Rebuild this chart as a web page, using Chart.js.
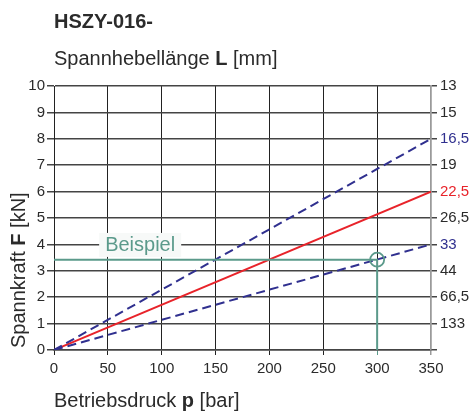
<!DOCTYPE html>
<html>
<head>
<meta charset="utf-8">
<script src="https://cdn.jsdelivr.net/npm/chart.js@4/dist/chart.umd.min.js"></script>
<style>
  body { margin: 0; background: #fff; }
  #wrap { position: relative; width: 475px; height: 416px; font-family: "Liberation Sans", Arial, sans-serif; color: #2b2b2b; }
  #wrap canvas { position: absolute; left: 0; top: 0; }
  .lbl { position: absolute; white-space: nowrap; font-size: 20px; line-height: 20px; }
  #title { left: 54px; top: 11px; font-weight: bold; }
  #topTitle { left: 54px; top: 48px; }
  #xTitle { left: 54px; top: 390px; }
  #yTitle { left: 8px; top: 348px; transform: rotate(-90deg); transform-origin: 0 0; }
</style>
</head>
<body>
<div id="wrap">
  <canvas id="out" width="475" height="416"></canvas>
  <div class="lbl" id="title">HSZY-016-</div>
  <div class="lbl" id="topTitle">Spannhebellänge <b>L</b> [mm]</div>
  <div class="lbl" id="xTitle">Betriebsdruck <b>p</b> [bar]</div>
  <div class="lbl" id="yTitle">Spannkraft <b>F</b> [kN]</div>
</div>
<script>
// Betriebsdruck p [bar] -> Spannkraft F [kN]
const pressure = [0, 350];
const forceL165 = [0, 8];
const forceL225 = [0, 6];
const forceL33 = [0, 4];

// Beispiel: 300 bar
const examplePressure = [0, 300, 300];
const exampleForce = [3.42, 3.42, 0];

// right axis, Spannhebellänge L [mm], from F = 10 down to F = 0
const leverLabels = ["13", "15", "16,5", "19", "22,5", "26,5", "33", "44", "66,5", "133", ""];

const blue = "#30308f";
const red = "#e8232a";
const green = "#5b9a8b";
const textColor = "#2b2b2b";

function points(xs, ys) {
  return xs.map((x, i) => ({ x: x, y: ys[i] }));
}

function leverLabelColor(label) {
  if (label === "16,5" || label === "33") return blue;
  if (label === "22,5") return red;
  return textColor;
}

const beispielLabel = {
  id: "beispielLabel",
  beforeDatasetsDraw(chart) {
    const ctx = chart.ctx;
    const x = chart.scales.x.getPixelForValue(80);
    const y = chart.scales.y.getPixelForValue(3.98);
    ctx.save();
    ctx.font = "20px 'Liberation Sans', Arial, sans-serif";
    const w = ctx.measureText("Beispiel").width + 12;
    ctx.fillStyle = "#f7f9f8";
    ctx.fillRect(x - w / 2, y - 12, w, 24);
    ctx.fillStyle = green;
    ctx.textAlign = "center";
    ctx.textBaseline = "middle";
    ctx.fillText("Beispiel", x, y + 1);
    ctx.restore();
  }
};

const chart = new Chart(document.getElementById("out").getContext("2d"), {
  type: "line",
  data: {
    datasets: [
      {
        data: points(examplePressure, exampleForce),
        borderColor: green,
        borderWidth: 2,
        pointRadius: 0
      },
      {
        data: [{ x: examplePressure[1], y: exampleForce[1] }],
        borderColor: green,
        backgroundColor: "rgba(0,0,0,0)",
        borderWidth: 1.8,
        pointRadius: 7,
        pointStyle: "circle",
        showLine: false
      },
      {
        data: points(pressure, forceL165),
        borderColor: blue,
        borderWidth: 2,
        borderDash: [9, 5],
        pointRadius: 0
      },
      {
        data: points(pressure, forceL33),
        borderColor: blue,
        borderWidth: 2,
        borderDash: [9, 5],
        pointRadius: 0
      },
      {
        data: points(pressure, forceL225),
        borderColor: red,
        borderWidth: 2,
        pointRadius: 0
      }
    ]
  },
  options: {
    responsive: false,
    animation: false,
    layout: { padding: { top: 86, left: 0, right: 0, bottom: 36 } },
    plugins: {
      legend: { display: false },
      tooltip: { enabled: false }
    },
    scales: {
      x: {
        type: "linear",
        min: 0,
        max: 350,
        afterFit(scale) { scale.height = 30; },
        ticks: { stepSize: 50, color: textColor, padding: 5, font: { size: 15, family: "'Liberation Sans', Arial, sans-serif" } },
        grid: {
          color: ctx => (ctx.tick && ctx.tick.value === 350 ? "#9a9a9a" : "#222"),
          tickColor: ctx => (ctx.tick && ctx.tick.value === 300 ? green : (ctx.tick && ctx.tick.value === 350 ? "#9a9a9a" : "#222")),
          lineWidth: ctx => (ctx.tick && ctx.tick.value === 350 ? 1.5 : 1),
          tickLength: 5
        },
        border: { color: "#444", width: 1.5 }
      },
      y: {
        min: 0,
        max: 10,
        afterFit(scale) { scale.width = 54; },
        ticks: { stepSize: 1, color: textColor, padding: 2, font: { size: 15, family: "'Liberation Sans', Arial, sans-serif" } },
        grid: { color: "#444", lineWidth: 1.5, tickLength: 7 },
        border: { color: "#222", width: 1 }
      },
      y2: {
        position: "right",
        min: 0,
        max: 10,
        afterFit(scale) { scale.width = 44; },
        ticks: {
          stepSize: 1,
          padding: 3,
          font: { size: 15, family: "'Liberation Sans', Arial, sans-serif" },
          callback: value => leverLabels[10 - value],
          color: ctx => leverLabelColor(leverLabels[10 - ctx.tick.value])
        },
        grid: { drawOnChartArea: false, color: "#444", lineWidth: 1.5, tickLength: 6 },
        border: { color: "#9a9a9a", width: 1.5 }
      }
    }
  },
  plugins: [beispielLabel]
});
</script>
</body>
</html>
